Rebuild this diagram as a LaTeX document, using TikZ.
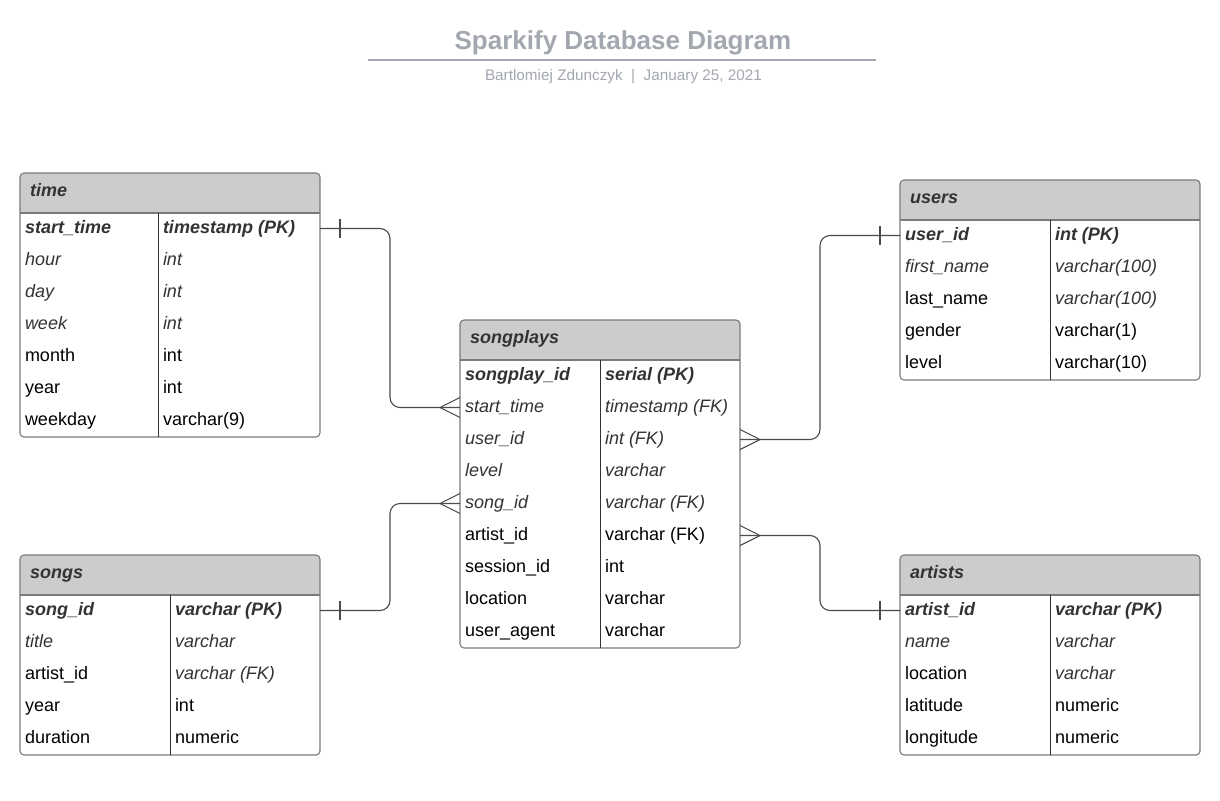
\documentclass[tikz,border=0pt]{standalone}
\usepackage{fontspec}
\setmainfont{Liberation Sans}
\usetikzlibrary{calc}
\definecolor{ttl}{HTML}{A3A7B0}
\definecolor{hdr}{HTML}{CCCCCC}
\definecolor{frm}{HTML}{7A7A7A}
\definecolor{dk}{HTML}{333333}
\definecolor{cn}{HTML}{4A4A4A}
\tikzset{
  cellbase/.style={inner sep=0pt, outer sep=0pt, text height=13pt, text depth=4pt},
  pkc/.style={cellbase, font=\fontsize{18}{20}\selectfont\bfseries\itshape, text=dk},
  fkc/.style={cellbase, font=\fontsize{18}{20}\selectfont\itshape, text=dk},
  plc/.style={cellbase, font=\fontsize{18}{20}\selectfont, text=black},
  hdrtext/.style={inner sep=0pt, font=\fontsize{18}{20}\selectfont\bfseries\itshape, text=dk},
  tframe/.style={draw=frm, line width=1.1pt, rounded corners=4pt, inner sep=0pt, outer sep=0pt},
  hline/.style={draw=frm, line width=1.1pt},
  divline/.style={draw=dk, line width=1pt},
  conn/.style={draw=cn, line width=1.1pt, rounded corners=10pt},
  erdmark/.style={draw=cn, line width=1.1pt},
}
\newcommand\dbtable[7]{% name, x1, ytop, x2, nrows, divx, title
  \pgfmathsetmacro\ybot{#3+40+32*#5}%
  \begin{scope}
    \clip[rounded corners=4pt] (#2,#3) rectangle (#4,\ybot);
    \fill[hdr] (#2,#3) rectangle (#4,#3+40);
  \end{scope}
  \node[tframe, anchor=north west, minimum width={#4-#2}, minimum height={40+32*#5}] (#1) at (#2,#3) {};
  \draw[hline] (#2,#3+40) -- (#4,#3+40);
  \draw[divline] (#6,#3+40) -- (#6,\ybot);
  \node[hdrtext, anchor=base west] (#1-h) at (#2+10,#3+23) {#7};
  \def\tx{#2}\def\ty{#3}\def\tdiv{#6}%
}
\newcommand\dbrow[6]{% table, k, lstyle, left, rstyle, right
  \node[#3, anchor=base west] (#1-#2) at (\tx+5, \ty+28+32*#2) {#4};
  \node[#5, anchor=base west] (#1-#2r) at (\tdiv+5, \ty+28+32*#2) {#6};
}
\begin{document}
\begin{tikzpicture}[x=1pt, y=-1pt]
\useasboundingbox (0,0) rectangle (1220,800);
\fill[white] (0,0) rectangle (1220,800);

% title
\node[anchor=base, inner sep=0pt, font=\fontsize{26}{30}\selectfont\bfseries, text=ttl] (title) at (623,49) {Sparkify Database Diagram};
\coordinate (tl) at (368,60);
\coordinate (tr) at (876,60);
\draw[ttl, line width=2pt] (tl) -- (tr);
\node[anchor=base, inner sep=0pt, font=\fontsize{15.3}{18}\selectfont, text=ttl] (subtitle) at (623.5,80) {Bartlomiej Zdunczyk\ \ |\ \ January 25, 2021};

% time
\dbtable{time}{20}{173}{320}{7}{158}{time}
\dbrow{time}{1}{pkc}{start\_time}{pkc}{timestamp (PK)}
\dbrow{time}{2}{fkc}{hour}{fkc}{int}
\dbrow{time}{3}{fkc}{day}{fkc}{int}
\dbrow{time}{4}{fkc}{week}{fkc}{int}
\dbrow{time}{5}{plc}{month}{plc}{int}
\dbrow{time}{6}{plc}{year}{plc}{int}
\dbrow{time}{7}{plc}{weekday}{plc}{varchar(9)}

% songplays
\dbtable{sp}{460}{320}{740}{9}{600}{songplays}
\dbrow{sp}{1}{pkc}{songplay\_id}{pkc}{serial (PK)}
\dbrow{sp}{2}{fkc}{start\_time}{fkc}{timestamp (FK)}
\dbrow{sp}{3}{fkc}{user\_id}{fkc}{int (FK)}
\dbrow{sp}{4}{fkc}{level}{fkc}{varchar}
\dbrow{sp}{5}{fkc}{song\_id}{fkc}{varchar (FK)}
\dbrow{sp}{6}{plc}{artist\_id}{plc}{varchar (FK)}
\dbrow{sp}{7}{plc}{session\_id}{plc}{int}
\dbrow{sp}{8}{plc}{location}{plc}{varchar}
\dbrow{sp}{9}{plc}{user\_agent}{plc}{varchar}

% users
\dbtable{users}{900}{180}{1200}{5}{1050}{users}
\dbrow{users}{1}{pkc}{user\_id}{pkc}{int (PK)}
\dbrow{users}{2}{fkc}{first\_name}{fkc}{varchar(100)}
\dbrow{users}{3}{plc}{last\_name}{fkc}{varchar(100)}
\dbrow{users}{4}{plc}{gender}{plc}{varchar(1)}
\dbrow{users}{5}{plc}{level}{plc}{varchar(10)}

% songs
\dbtable{songs}{20}{555}{320}{5}{170}{songs}
\dbrow{songs}{1}{pkc}{song\_id}{pkc}{varchar (PK)}
\dbrow{songs}{2}{fkc}{title}{fkc}{varchar}
\dbrow{songs}{3}{plc}{artist\_id}{fkc}{varchar (FK)}
\dbrow{songs}{4}{plc}{year}{plc}{int}
\dbrow{songs}{5}{plc}{duration}{plc}{numeric}

% artists
\dbtable{artists}{900}{555}{1200}{5}{1050}{artists}
\dbrow{artists}{1}{pkc}{artist\_id}{pkc}{varchar (PK)}
\dbrow{artists}{2}{fkc}{name}{fkc}{varchar}
\dbrow{artists}{3}{plc}{location}{fkc}{varchar}
\dbrow{artists}{4}{plc}{latitude}{plc}{numeric}
\dbrow{artists}{5}{plc}{longitude}{plc}{numeric}

% connectors
\coordinate (a1) at (time.east |- time-1.center);
\coordinate (b1) at (sp.west |- sp-2.center);
\draw[conn] (a1) -| ($(a1)!.5!(b1)$) |- (b1);
\draw[erdmark] ($(a1)+(20,-9.5)$) -- ($(a1)+(20,9.5)$);
\draw[erdmark] ($(b1)+(0,-10)$) -- ($(b1)+(-20,0)$) -- ($(b1)+(0,10)$);

\coordinate (a2) at (users.west |- users-1.center);
\coordinate (b2) at (sp.east |- sp-3.center);
\draw[conn] (b2) -| ($(b2)!.5!(a2)$) |- (a2);
\draw[erdmark] ($(a2)+(-20,-9.5)$) -- ($(a2)+(-20,9.5)$);
\draw[erdmark] ($(b2)+(0,-10)$) -- ($(b2)+(20,0)$) -- ($(b2)+(0,10)$);

\coordinate (a3) at (songs.east |- songs-1.center);
\coordinate (b3) at (sp.west |- sp-5.center);
\draw[conn] (a3) -| ($(a3)!.5!(b3)$) |- (b3);
\draw[erdmark] ($(a3)+(20,-9.5)$) -- ($(a3)+(20,9.5)$);
\draw[erdmark] ($(b3)+(0,-10)$) -- ($(b3)+(-20,0)$) -- ($(b3)+(0,10)$);

\coordinate (a4) at (artists.west |- artists-1.center);
\coordinate (b4) at (sp.east |- sp-6.center);
\draw[conn] (b4) -| ($(b4)!.5!(a4)$) |- (a4);
\draw[erdmark] ($(a4)+(-20,-9.5)$) -- ($(a4)+(-20,9.5)$);
\draw[erdmark] ($(b4)+(0,-10)$) -- ($(b4)+(20,0)$) -- ($(b4)+(0,10)$);
\end{tikzpicture}
\end{document}
